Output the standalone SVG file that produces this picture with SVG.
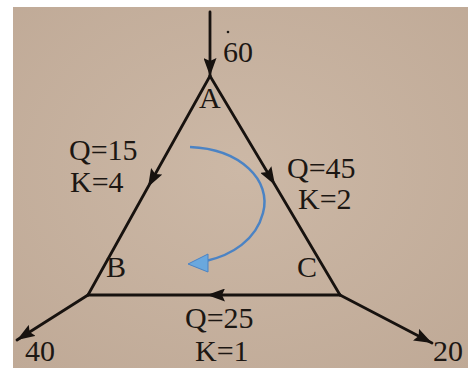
<svg xmlns="http://www.w3.org/2000/svg" width="468" height="369" viewBox="0 0 468 369">
<style>
.edge{fill:none;stroke:#17120f;stroke-width:2.8;stroke-linecap:round;stroke-linejoin:round}
.lbl{font-family:"Liberation Serif","Times New Roman",serif;font-size:30px;fill:#1c1713}
.loop{fill:none;stroke:#4b83c4;stroke-width:2.5}
</style>
<defs>
<marker id="ah" markerUnits="userSpaceOnUse" markerWidth="20" markerHeight="13" refX="18" refY="6.5" orient="auto">
<path d="M0,0 L18,6.5 L0,13 L3,6.5 z" fill="#17120f"/>
</marker>
<radialGradient id="bg" cx="0.5" cy="0.45" r="0.75">
<stop offset="0" stop-color="#ccb8a6"/>
<stop offset="1" stop-color="#bfa996"/>
</radialGradient>
</defs>
<rect width="468" height="369" fill="#ffffff"/>
<rect x="13" y="7" width="455" height="361" fill="url(#bg)"/>
<g id="connectors">
<path class="edge" d="M210,12 L210,76" marker-end="url(#ah)"/>
<path class="edge" d="M210,76 L148,187 L88,295" marker-mid="url(#ah)"/>
<path class="edge" d="M210,76 L275,185 L340,295" marker-mid="url(#ah)"/>
<path class="edge" d="M340,295 L207,295 L88,295" marker-mid="url(#ah)"/>
<path class="edge" d="M88,295 L17,340" marker-end="url(#ah)"/>
<path class="edge" d="M340,295 L432,343" marker-end="url(#ah)"/>
<path class="loop" d="M190,147 C240,149 272,180 263,213 C256,240 232,255 206,261"/>
<polygon points="188,264 208,254 208,272" fill="#6aa8de" stroke="#4b83c4" stroke-width="1"/>
<circle cx="228" cy="32" r="1.3" fill="#1e1915"/>
</g>
<g id="A"><text class="lbl" x="199" y="108">A</text></g>
<g id="B"><text class="lbl" x="106" y="277">B</text></g>
<g id="C"><text class="lbl" x="297" y="277">C</text></g>
<g id="in60"><text class="lbl" x="223" y="62">60</text></g>
<g id="out40"><text class="lbl" x="25" y="361">40</text></g>
<g id="out20"><text class="lbl" x="433" y="361">20</text></g>
<g id="lblAB"><text class="lbl" x="69" y="160">Q=15</text><text class="lbl" x="70" y="192">K=4</text></g>
<g id="lblAC"><text class="lbl" x="287" y="178">Q=45</text><text class="lbl" x="298" y="209">K=2</text></g>
<g id="lblBC"><text class="lbl" x="185" y="328">Q=25</text><text class="lbl" x="195" y="361">K=1</text></g>
</svg>
